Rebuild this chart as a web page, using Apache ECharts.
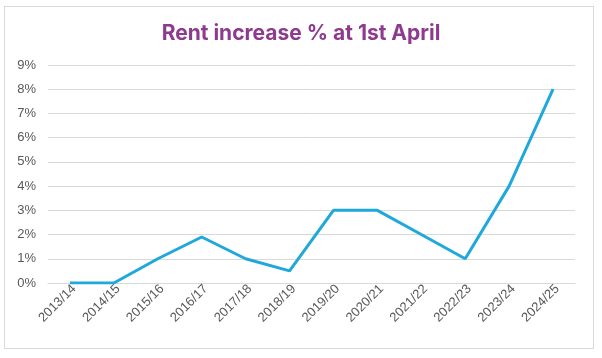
<!DOCTYPE html>
<html><head><meta charset="utf-8">
<script src="https://cdn.jsdelivr.net/npm/echarts@6/dist/echarts.min.js"></script>
<style>
html,body{margin:0;padding:0;background:#fff;}
#frame{position:absolute;left:4px;top:6px;width:590px;height:343px;border:1px solid #d9d9d9;box-sizing:border-box;}
#chart{position:absolute;left:0;top:0;width:602px;height:358px;}
</style></head>
<body><div id="frame"></div><div id="chart"></div>
<script>
const categories = ['2013/14','2014/15','2015/16','2016/17','2017/18','2018/19','2019/20','2020/21','2021/22','2022/23','2023/24','2024/25'];
const rentIncrease = [0, 0, 1, 1.9, 1, 0.5, 3, 3, 2, 1, 4, 8];
const titleText = 'Rent increase % at 1st April';
const chart = echarts.init(document.getElementById('chart'));
chart.setOption({
  animation:false,
  title:{text:titleText,left:'center',top:18,textStyle:{color:'#8e3a8f',fontSize:21,fontWeight:'bold',fontFamily:'Inter'}},
  grid:{left:48,right:27,top:65,bottom:75},
  xAxis:{type:'category',data:categories,boundaryGap:true,
    axisLine:{show:true,lineStyle:{color:'#d9d9d9'}},axisTick:{show:false},
    axisLabel:{rotate:45,color:'#595959',fontSize:13,fontFamily:'Liberation Sans',margin:8,interval:0,padding:[0,-6,0,0]}},
  yAxis:{type:'value',min:0,max:9,interval:1,
    axisLabel:{formatter:'{value}%',color:'#595959',fontSize:13,fontFamily:'Liberation Sans',margin:12},
    splitLine:{lineStyle:{color:'#d9d9d9',width:1}},axisLine:{show:false},axisTick:{show:false}},
  series:[{type:'line',data:rentIncrease,symbol:'none',lineStyle:{color:'#1fa8dc',width:3},itemStyle:{color:'#1fa8dc'}}]
});
</script></body></html>
